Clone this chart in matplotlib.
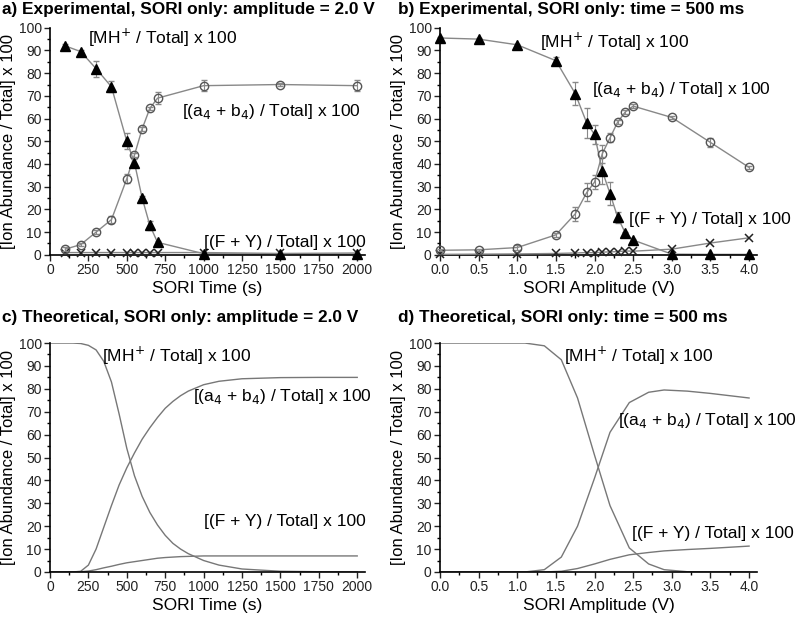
import numpy as np
import matplotlib.pyplot as plt
from matplotlib.ticker import MultipleLocator

plt.rcParams['font.family'] = ['Liberation Sans', 'DejaVu Sans']

# a) experimental, amplitude = 2.0 V
t_exp = [100, 200, 300, 400, 500, 550, 600, 650, 700, 1000, 1500, 2000]
mh_a = [92, 89.5, 82, 74, 50, 40.5, 25, 13, 5.5, 0.5, 0.3, 0.3]
mh_a_err = [0.8, 0.8, 3.5, 2.5, 3.5, 1.5, 0.8, 2, 0.8, 0.5, 0.3, 0.3]
ab_a = [2.5, 4.5, 10, 15.5, 33.5, 44, 55.5, 64.5, 69, 74.5, 75, 74.5]
ab_a_err = [0.8, 0.8, 1, 1.5, 2, 1, 0.8, 0.8, 2.5, 2.5, 0.8, 2.5]
fy_a = [1, 1, 1, 1, 1, 1, 1, 1, 1, 1, 0.6, 0.8]

# b) experimental, time = 500 ms
v_exp = [0.0, 0.5, 1.0, 1.5, 1.75, 1.9, 2.0, 2.1, 2.2, 2.3, 2.4, 2.5, 3.0, 3.5, 4.0]
mh_b = [95.5, 95, 92.5, 85.5, 71, 58, 53, 37, 27, 16.5, 9.5, 6.5, 0.3, 0.2, 0.2]
mh_b_err = [0.5, 0.5, 0.5, 1.5, 5, 6.5, 4, 6, 5, 2.5, 0.5, 0.5, 0.3, 0.2, 0.2]
ab_b = [2, 2.2, 3.2, 8.8, 18, 27.5, 32, 44.5, 51.5, 58.5, 63, 65.5, 60.5, 49.5, 38.5]
ab_b_err = [0.5, 0.5, 1, 1, 3, 4, 3, 4, 2, 0.8, 0.8, 0.8, 0.8, 2, 0.8]
fy_b = [0.2, 0.3, 0.4, 0.6, 0.8, 1.0, 0.9, 1.2, 1.3, 1.4, 1.7, 1.6, 2.5, 5.2, 7.5]

# c) theoretical, amplitude = 2.0 V
t_th = [0, 150, 200, 250, 300, 350, 400, 450, 500, 550, 600, 650, 700, 750,
        800, 850, 900, 1000, 1100, 1250, 1500, 1750, 2000]
mh_c = [100, 100, 99.8, 99, 97, 92, 83, 69, 54, 42, 33, 26, 20.5, 16,
        12.5, 10, 8, 5, 3, 1.3, 0.3, 0.1, 0]
ab_c = [0, 0, 0.3, 3, 10, 19.5, 29, 38, 45.5, 52, 58, 63, 67.5, 71.5,
        74.5, 77, 79, 81.8, 83.3, 84.4, 84.9, 85, 85]
fy_c = [0, 0, 0.1, 0.4, 1, 1.8, 2.5, 3.3, 4, 4.5, 5, 5.5, 6, 6.3,
        6.5, 6.7, 6.8, 7, 7, 7, 7, 7, 7]

# d) theoretical, time = 500 ms
v_th = [0.0, 1.1, 1.35, 1.57, 1.78, 2.0, 2.2, 2.45, 2.7, 2.9, 3.2, 3.5, 4.0]
mh_d = [100, 100, 98.8, 92.7, 76, 51, 29, 10.5, 3.5, 1, 0.1, 0, 0]
ab_d = [0, 0, 1, 6.5, 20, 41, 61, 74, 78.5, 79.5, 79, 78, 76]
fy_d = [0, 0, 0, 0.3, 1.5, 3.5, 5.5, 7.5, 8.5, 9.2, 9.8, 10.3, 11.3]

MH = r'[MH$^{+}$ / Total] x 100'
AB = r'[(a$_{4}$ + b$_{4}$) / Total] x 100'
FY = '[(F + Y) / Total] x 100'
YLAB = '[Ion Abundance / Total] x 100'

fig = plt.figure(figsize=(8, 6.17), dpi=100)
ax_a = fig.add_axes([0.0625, 0.587, 0.394, 0.368])
ax_b = fig.add_axes([0.55, 0.587, 0.396, 0.368])
ax_c = fig.add_axes([0.0625, 0.073, 0.394, 0.371])
ax_d = fig.add_axes([0.55, 0.073, 0.396, 0.371])


def style(ax, xmax, major, minor, xlabel):
    ax.set_xlim(0, xmax)
    ax.set_ylim(0, 100)
    ax.spines['top'].set_visible(False)
    ax.spines['right'].set_visible(False)
    ax.spines['left'].set_linewidth(1.2)
    ax.spines['bottom'].set_linewidth(1.2)
    ax.xaxis.set_major_locator(MultipleLocator(major))
    ax.xaxis.set_minor_locator(MultipleLocator(minor))
    ax.yaxis.set_major_locator(MultipleLocator(10))
    ax.yaxis.set_minor_locator(MultipleLocator(5))
    ax.tick_params(which='major', direction='out', length=4, width=1,
                   labelsize=10, colors='#222222', pad=2)
    ax.tick_params(which='minor', direction='out', length=2.5, width=1)
    ax.set_xlabel(xlabel, fontsize=12.5, labelpad=3)
    ax.set_ylabel(YLAB, fontsize=12, labelpad=2)


def exp_series(ax, x, mh, mh_err, ab, ab_err, fy):
    ax.plot(x, fy, color='#888888', lw=1, marker='x', ms=6, mew=1.1,
            mec='#222222', clip_on=False, zorder=3)
    ax.plot(x, ab, color='#888888', lw=1, zorder=2)
    ax.errorbar(x, ab, yerr=ab_err, fmt='o', ms=6, mfc='none', mec='#555555',
                mew=1, ecolor='#888888', elinewidth=0.8, capsize=2.5,
                clip_on=False, zorder=4)
    ax.plot(x, mh, color='#888888', lw=1, zorder=2)
    ax.errorbar(x, mh, yerr=mh_err, fmt='^', ms=6.5, mfc='black', mec='black',
                ecolor='#888888', elinewidth=0.8, capsize=2.5,
                clip_on=False, zorder=5)


exp_series(ax_a, t_exp, mh_a, mh_a_err, ab_a, ab_a_err, fy_a)
style(ax_a, 2052, 250, 125, 'SORI Time (s)')
ax_a.xaxis.set_major_formatter(plt.FuncFormatter(lambda v, p: '%d' % v))

exp_series(ax_b, v_exp, mh_b, mh_b_err, ab_b, ab_b_err, fy_b)
style(ax_b, 4.1, 0.5, 0.25, 'SORI Amplitude (V)')
ax_b.xaxis.set_major_formatter(plt.FuncFormatter(lambda v, p: '%.1f' % v))

for y in (mh_c, ab_c, fy_c):
    ax_c.plot(t_th, y, color='#777777', lw=1)
style(ax_c, 2052, 250, 125, 'SORI Time (s)')
ax_c.xaxis.set_major_formatter(plt.FuncFormatter(lambda v, p: '%d' % v))

for y in (mh_d, ab_d, fy_d):
    ax_d.plot(v_th, y, color='#777777', lw=1)
style(ax_d, 4.1, 0.5, 0.25, 'SORI Amplitude (V)')
ax_d.xaxis.set_major_formatter(plt.FuncFormatter(lambda v, p: '%.1f' % v))

lab = dict(fontsize=12.5, va='center', ha='left')
ax_a.text(245, 95.5, MH, **lab)
ax_a.text(860, 63, AB, **lab)
ax_a.text(1000, 5.5, FY, **lab)
ax_b.text(1.29, 94, MH, **lab)
ax_b.text(1.97, 73, AB, **lab)
ax_b.text(2.45, 15.5, FY, **lab)
ax_c.text(340, 94.5, MH, **lab)
ax_c.text(930, 76.5, AB, **lab)
ax_c.text(1000, 22, FY, **lab)
ax_d.text(1.61, 94.5, MH, **lab)
ax_d.text(2.31, 66, AB, **lab)
ax_d.text(2.48, 17, FY, **lab)

fig.text(0.003, 0.984, 'a) Experimental, SORI only: amplitude = 2.0 V',
         fontsize=12.4, fontweight='bold', va='center')
fig.text(0.497, 0.984, 'b) Experimental, SORI only: time = 500 ms',
         fontsize=12.4, fontweight='bold', va='center')
fig.text(0.003, 0.485, 'c) Theoretical, SORI only: amplitude = 2.0 V',
         fontsize=12.4, fontweight='bold', va='center')
fig.text(0.497, 0.485, 'd) Theoretical, SORI only: time = 500 ms',
         fontsize=12.4, fontweight='bold', va='center')

fig.savefig('out.png', dpi=100)
